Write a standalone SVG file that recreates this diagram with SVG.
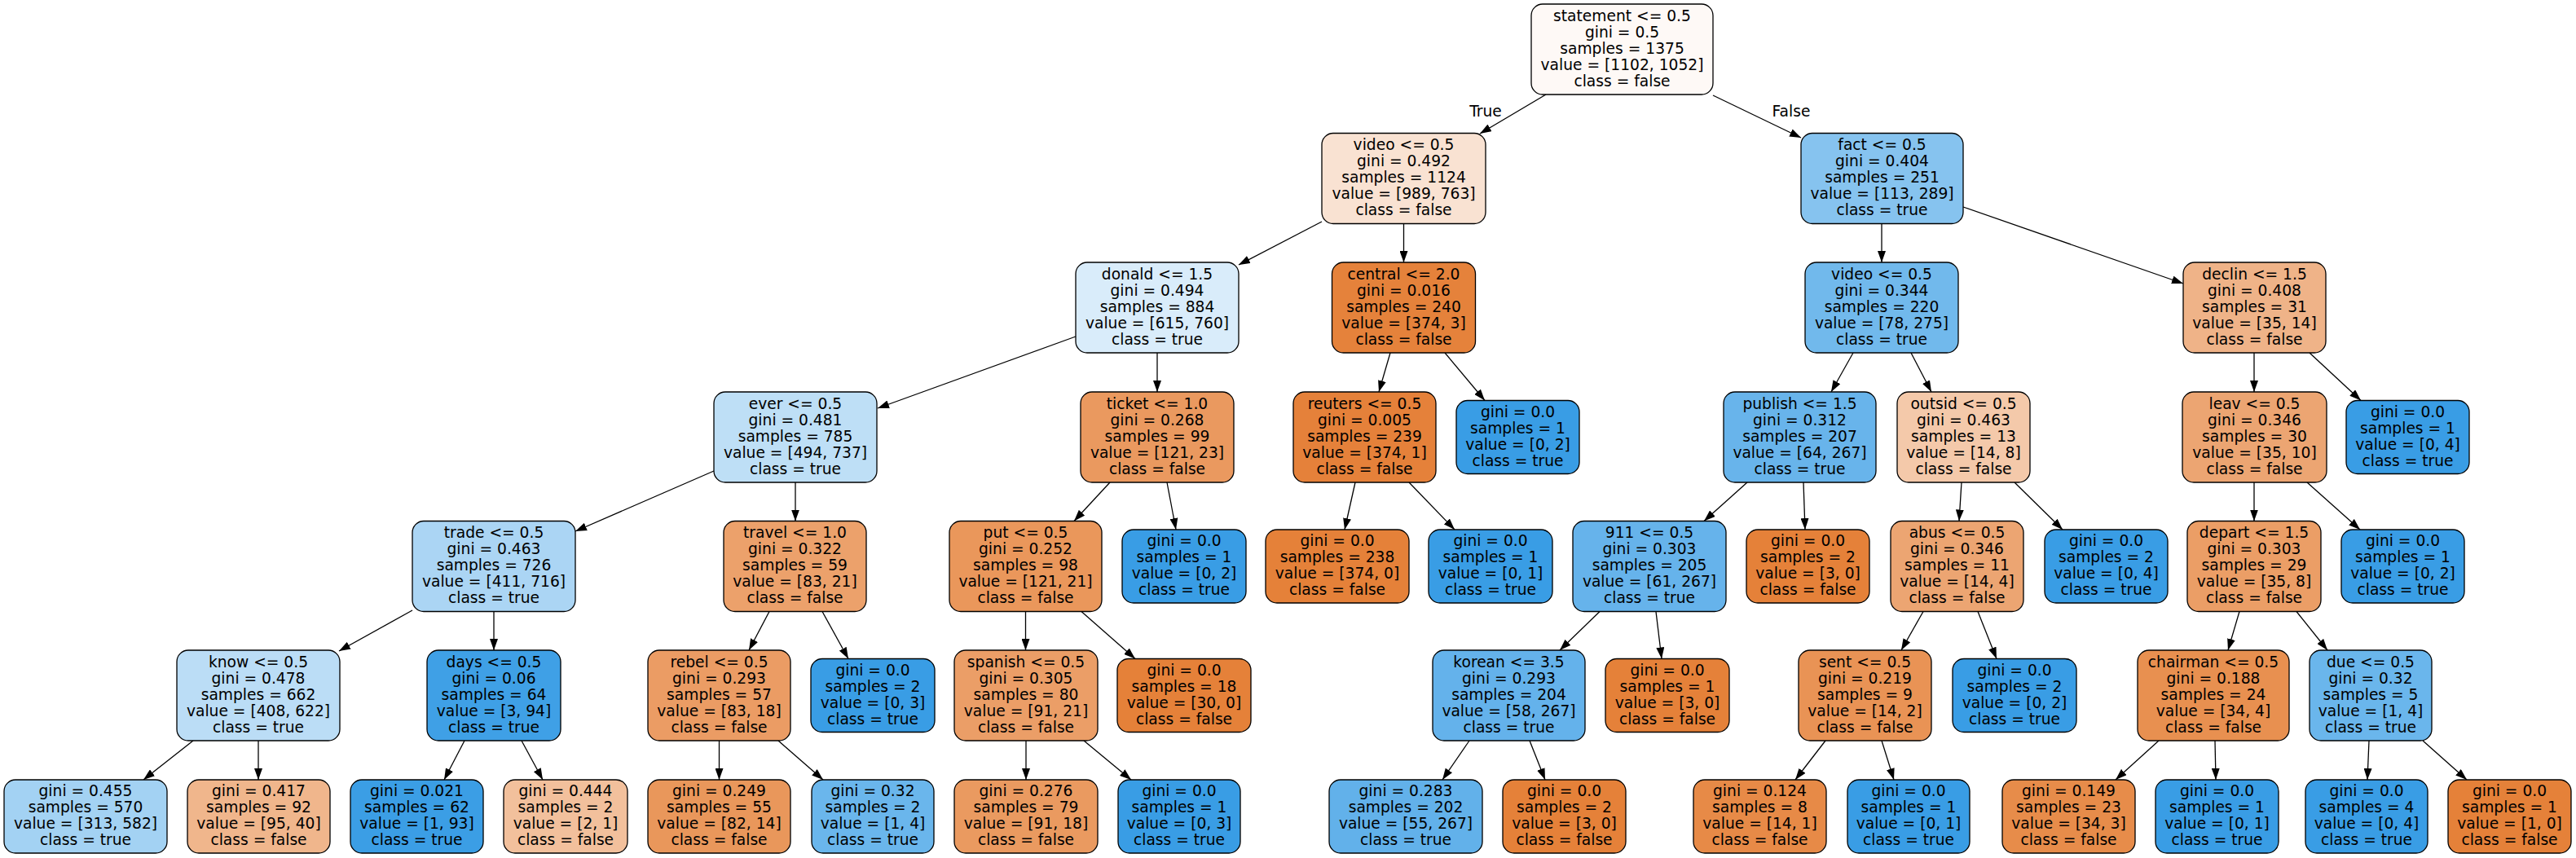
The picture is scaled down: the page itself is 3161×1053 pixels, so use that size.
<svg xmlns="http://www.w3.org/2000/svg" width="3161" height="1053" viewBox="0 0 3161 1053">
<style>
.n rect{stroke:#000;stroke-width:1.3}
text{font-family:"DejaVu Sans","Liberation Sans",sans-serif;font-size:18.67px;text-anchor:middle;fill:#000}
.e line{stroke:#000;stroke-width:1.3;marker-end:url(#a)}
</style>
<defs>
<marker id="a" viewBox="0 0 14 10" refX="14" refY="5" markerWidth="14" markerHeight="10" markerUnits="userSpaceOnUse" orient="auto"><path d="M0,0 L14,5 L0,10 z" fill="#000"/></marker>
</defs>
<rect width="3161" height="1053" fill="#fff"/>
<g id="edges" class="e">
<line x1="1897" y1="116" x2="1816" y2="164"/>
<line x1="2102" y1="117" x2="2210" y2="169"/>
<line x1="1622" y1="272" x2="1520" y2="325"/>
<line x1="1722.5" y1="274.5" x2="1722.5" y2="322"/>
<line x1="2309" y1="274.5" x2="2309" y2="322"/>
<line x1="2409" y1="254" x2="2679" y2="348"/>
<line x1="1320" y1="413" x2="1077" y2="501"/>
<line x1="1420" y1="433" x2="1420" y2="481"/>
<line x1="1706" y1="433" x2="1692" y2="481"/>
<line x1="1773" y1="433" x2="1822" y2="491.5"/>
<line x1="2274" y1="433" x2="2247" y2="481"/>
<line x1="2345" y1="433" x2="2370" y2="481"/>
<line x1="2766" y1="433" x2="2766" y2="481"/>
<line x1="2834" y1="433" x2="2897" y2="491.5"/>
<line x1="876" y1="578" x2="706" y2="652"/>
<line x1="976" y1="592" x2="976" y2="639.5"/>
<line x1="1362" y1="592" x2="1318" y2="639.5"/>
<line x1="1432" y1="592" x2="1443" y2="650"/>
<line x1="1663" y1="592" x2="1650" y2="650"/>
<line x1="1729" y1="592" x2="1785" y2="650"/>
<line x1="2144" y1="592" x2="2091" y2="639.5"/>
<line x1="2213" y1="592" x2="2215" y2="650"/>
<line x1="2407" y1="592" x2="2404" y2="639.5"/>
<line x1="2472" y1="592" x2="2531" y2="650"/>
<line x1="2766" y1="592" x2="2766" y2="639.5"/>
<line x1="2831" y1="592" x2="2896" y2="650"/>
<line x1="506" y1="749" x2="416" y2="799"/>
<line x1="606" y1="750.5" x2="606" y2="798"/>
<line x1="944" y1="750.5" x2="919" y2="798"/>
<line x1="1009" y1="750.5" x2="1041" y2="808.5"/>
<line x1="1258.5" y1="750.5" x2="1258.5" y2="798"/>
<line x1="1327" y1="750.5" x2="1393" y2="808.5"/>
<line x1="1963" y1="750.5" x2="1914" y2="798"/>
<line x1="2032" y1="750.5" x2="2039" y2="808.5"/>
<line x1="2360" y1="750.5" x2="2333" y2="798"/>
<line x1="2427" y1="750.5" x2="2450" y2="808.5"/>
<line x1="2748" y1="750.5" x2="2734" y2="798"/>
<line x1="2818" y1="750.5" x2="2856" y2="798"/>
<line x1="237" y1="909" x2="176" y2="957"/>
<line x1="317" y1="909" x2="317" y2="957"/>
<line x1="570" y1="909" x2="545" y2="957"/>
<line x1="640" y1="909" x2="666" y2="957"/>
<line x1="882.5" y1="909" x2="882.5" y2="957"/>
<line x1="955" y1="909" x2="1010" y2="957"/>
<line x1="1259" y1="909" x2="1259" y2="957"/>
<line x1="1330" y1="909" x2="1388" y2="957"/>
<line x1="1803" y1="909" x2="1770" y2="957"/>
<line x1="1877" y1="909" x2="1896" y2="957"/>
<line x1="2240" y1="909" x2="2203" y2="957"/>
<line x1="2309" y1="909" x2="2324" y2="957"/>
<line x1="2649" y1="909" x2="2596" y2="957"/>
<line x1="2718" y1="909" x2="2719" y2="957"/>
<line x1="2907" y1="909" x2="2905" y2="957"/>
<line x1="2973" y1="909" x2="3027" y2="957"/>
<text x="1823" y="142.5">True</text>
<text x="2198" y="142.5">False</text>
</g>
<g id="n0" class="n"><rect x="1879" y="5" width="223" height="111" rx="14" fill="#fef9f6"/><text y="25.5"><tspan x="1990.5">statement &lt;= 0.5</tspan><tspan x="1990.5" dy="20">gini = 0.5</tspan><tspan x="1990.5" dy="20">samples = 1375</tspan><tspan x="1990.5" dy="20">value = [1102, 1052]</tspan><tspan x="1990.5" dy="20">class = false</tspan></text></g>
<g id="n1" class="n"><rect x="1622" y="163.5" width="201" height="111" rx="14" fill="#f9e2d2"/><text y="184"><tspan x="1722.5">video &lt;= 0.5</tspan><tspan x="1722.5" dy="20">gini = 0.492</tspan><tspan x="1722.5" dy="20">samples = 1124</tspan><tspan x="1722.5" dy="20">value = [989, 763]</tspan><tspan x="1722.5" dy="20">class = false</tspan></text></g>
<g id="n2" class="n"><rect x="2210" y="163.5" width="199" height="111" rx="14" fill="#86c3ef"/><text y="184"><tspan x="2309.5">fact &lt;= 0.5</tspan><tspan x="2309.5" dy="20">gini = 0.404</tspan><tspan x="2309.5" dy="20">samples = 251</tspan><tspan x="2309.5" dy="20">value = [113, 289]</tspan><tspan x="2309.5" dy="20">class = true</tspan></text></g>
<g id="n3" class="n"><rect x="1320" y="322" width="200" height="111" rx="14" fill="#d9ecfa"/><text y="342.5"><tspan x="1420">donald &lt;= 1.5</tspan><tspan x="1420" dy="20">gini = 0.494</tspan><tspan x="1420" dy="20">samples = 884</tspan><tspan x="1420" dy="20">value = [615, 760]</tspan><tspan x="1420" dy="20">class = true</tspan></text></g>
<g id="n4" class="n"><rect x="1634.5" y="322" width="176" height="111" rx="14" fill="#e5823b"/><text y="342.5"><tspan x="1722.5">central &lt;= 2.0</tspan><tspan x="1722.5" dy="20">gini = 0.016</tspan><tspan x="1722.5" dy="20">samples = 240</tspan><tspan x="1722.5" dy="20">value = [374, 3]</tspan><tspan x="1722.5" dy="20">class = false</tspan></text></g>
<g id="n5" class="n"><rect x="2215" y="322" width="188" height="111" rx="14" fill="#71b9ec"/><text y="342.5"><tspan x="2309">video &lt;= 0.5</tspan><tspan x="2309" dy="20">gini = 0.344</tspan><tspan x="2309" dy="20">samples = 220</tspan><tspan x="2309" dy="20">value = [78, 275]</tspan><tspan x="2309" dy="20">class = true</tspan></text></g>
<g id="n6" class="n"><rect x="2679" y="322" width="175" height="111" rx="14" fill="#efb388"/><text y="342.5"><tspan x="2766.5">declin &lt;= 1.5</tspan><tspan x="2766.5" dy="20">gini = 0.408</tspan><tspan x="2766.5" dy="20">samples = 31</tspan><tspan x="2766.5" dy="20">value = [35, 14]</tspan><tspan x="2766.5" dy="20">class = false</tspan></text></g>
<g id="n7" class="n"><rect x="876" y="481" width="200" height="111" rx="14" fill="#bedff6"/><text y="501.5"><tspan x="976">ever &lt;= 0.5</tspan><tspan x="976" dy="20">gini = 0.481</tspan><tspan x="976" dy="20">samples = 785</tspan><tspan x="976" dy="20">value = [494, 737]</tspan><tspan x="976" dy="20">class = true</tspan></text></g>
<g id="n8" class="n"><rect x="1326" y="481" width="188" height="111" rx="14" fill="#ea995f"/><text y="501.5"><tspan x="1420">ticket &lt;= 1.0</tspan><tspan x="1420" dy="20">gini = 0.268</tspan><tspan x="1420" dy="20">samples = 99</tspan><tspan x="1420" dy="20">value = [121, 23]</tspan><tspan x="1420" dy="20">class = false</tspan></text></g>
<g id="n9" class="n"><rect x="1587" y="481" width="175" height="111" rx="14" fill="#e5813a"/><text y="501.5"><tspan x="1674.5">reuters &lt;= 0.5</tspan><tspan x="1674.5" dy="20">gini = 0.005</tspan><tspan x="1674.5" dy="20">samples = 239</tspan><tspan x="1674.5" dy="20">value = [374, 1]</tspan><tspan x="1674.5" dy="20">class = false</tspan></text></g>
<g id="n10" class="n"><rect x="1787" y="491.5" width="151" height="90" rx="14" fill="#399de5"/><text y="511.5"><tspan x="1862.5">gini = 0.0</tspan><tspan x="1862.5" dy="20">samples = 1</tspan><tspan x="1862.5" dy="20">value = [0, 2]</tspan><tspan x="1862.5" dy="20">class = true</tspan></text></g>
<g id="n11" class="n"><rect x="2115" y="481" width="187" height="111" rx="14" fill="#68b4eb"/><text y="501.5"><tspan x="2208.5">publish &lt;= 1.5</tspan><tspan x="2208.5" dy="20">gini = 0.312</tspan><tspan x="2208.5" dy="20">samples = 207</tspan><tspan x="2208.5" dy="20">value = [64, 267]</tspan><tspan x="2208.5" dy="20">class = true</tspan></text></g>
<g id="n12" class="n"><rect x="2328" y="481" width="163" height="111" rx="14" fill="#f4c9aa"/><text y="501.5"><tspan x="2409.5">outsid &lt;= 0.5</tspan><tspan x="2409.5" dy="20">gini = 0.463</tspan><tspan x="2409.5" dy="20">samples = 13</tspan><tspan x="2409.5" dy="20">value = [14, 8]</tspan><tspan x="2409.5" dy="20">class = false</tspan></text></g>
<g id="n13" class="n"><rect x="2678" y="481" width="177" height="111" rx="14" fill="#eca572"/><text y="501.5"><tspan x="2766.5">leav &lt;= 0.5</tspan><tspan x="2766.5" dy="20">gini = 0.346</tspan><tspan x="2766.5" dy="20">samples = 30</tspan><tspan x="2766.5" dy="20">value = [35, 10]</tspan><tspan x="2766.5" dy="20">class = false</tspan></text></g>
<g id="n14" class="n"><rect x="2879" y="491.5" width="151" height="90" rx="14" fill="#399de5"/><text y="511.5"><tspan x="2954.5">gini = 0.0</tspan><tspan x="2954.5" dy="20">samples = 1</tspan><tspan x="2954.5" dy="20">value = [0, 4]</tspan><tspan x="2954.5" dy="20">class = true</tspan></text></g>
<g id="n15" class="n"><rect x="506" y="639.5" width="200" height="111" rx="14" fill="#abd5f4"/><text y="660"><tspan x="606">trade &lt;= 0.5</tspan><tspan x="606" dy="20">gini = 0.463</tspan><tspan x="606" dy="20">samples = 726</tspan><tspan x="606" dy="20">value = [411, 716]</tspan><tspan x="606" dy="20">class = true</tspan></text></g>
<g id="n16" class="n"><rect x="888" y="639.5" width="175" height="111" rx="14" fill="#eca16b"/><text y="660"><tspan x="975.5">travel &lt;= 1.0</tspan><tspan x="975.5" dy="20">gini = 0.322</tspan><tspan x="975.5" dy="20">samples = 59</tspan><tspan x="975.5" dy="20">value = [83, 21]</tspan><tspan x="975.5" dy="20">class = false</tspan></text></g>
<g id="n17" class="n"><rect x="1165" y="639.5" width="187" height="111" rx="14" fill="#ea975b"/><text y="660"><tspan x="1258.5">put &lt;= 0.5</tspan><tspan x="1258.5" dy="20">gini = 0.252</tspan><tspan x="1258.5" dy="20">samples = 98</tspan><tspan x="1258.5" dy="20">value = [121, 21]</tspan><tspan x="1258.5" dy="20">class = false</tspan></text></g>
<g id="n18" class="n"><rect x="1377" y="650" width="152" height="90" rx="14" fill="#399de5"/><text y="670"><tspan x="1453">gini = 0.0</tspan><tspan x="1453" dy="20">samples = 1</tspan><tspan x="1453" dy="20">value = [0, 2]</tspan><tspan x="1453" dy="20">class = true</tspan></text></g>
<g id="n19" class="n"><rect x="1553" y="650" width="176" height="90" rx="14" fill="#e58139"/><text y="670"><tspan x="1641">gini = 0.0</tspan><tspan x="1641" dy="20">samples = 238</tspan><tspan x="1641" dy="20">value = [374, 0]</tspan><tspan x="1641" dy="20">class = false</tspan></text></g>
<g id="n20" class="n"><rect x="1753" y="650" width="152" height="90" rx="14" fill="#399de5"/><text y="670"><tspan x="1829">gini = 0.0</tspan><tspan x="1829" dy="20">samples = 1</tspan><tspan x="1829" dy="20">value = [0, 1]</tspan><tspan x="1829" dy="20">class = true</tspan></text></g>
<g id="n21" class="n"><rect x="1930" y="639.5" width="188" height="111" rx="14" fill="#66b3eb"/><text y="660"><tspan x="2024">911 &lt;= 0.5</tspan><tspan x="2024" dy="20">gini = 0.303</tspan><tspan x="2024" dy="20">samples = 205</tspan><tspan x="2024" dy="20">value = [61, 267]</tspan><tspan x="2024" dy="20">class = true</tspan></text></g>
<g id="n22" class="n"><rect x="2143" y="650" width="151" height="90" rx="14" fill="#e58139"/><text y="670"><tspan x="2218.5">gini = 0.0</tspan><tspan x="2218.5" dy="20">samples = 2</tspan><tspan x="2218.5" dy="20">value = [3, 0]</tspan><tspan x="2218.5" dy="20">class = false</tspan></text></g>
<g id="n23" class="n"><rect x="2320" y="639.5" width="163" height="111" rx="14" fill="#eca572"/><text y="660"><tspan x="2401.5">abus &lt;= 0.5</tspan><tspan x="2401.5" dy="20">gini = 0.346</tspan><tspan x="2401.5" dy="20">samples = 11</tspan><tspan x="2401.5" dy="20">value = [14, 4]</tspan><tspan x="2401.5" dy="20">class = false</tspan></text></g>
<g id="n24" class="n"><rect x="2509" y="650" width="151" height="90" rx="14" fill="#399de5"/><text y="670"><tspan x="2584.5">gini = 0.0</tspan><tspan x="2584.5" dy="20">samples = 2</tspan><tspan x="2584.5" dy="20">value = [0, 4]</tspan><tspan x="2584.5" dy="20">class = true</tspan></text></g>
<g id="n25" class="n"><rect x="2684" y="639.5" width="164" height="111" rx="14" fill="#eb9e66"/><text y="660"><tspan x="2766">depart &lt;= 1.5</tspan><tspan x="2766" dy="20">gini = 0.303</tspan><tspan x="2766" dy="20">samples = 29</tspan><tspan x="2766" dy="20">value = [35, 8]</tspan><tspan x="2766" dy="20">class = false</tspan></text></g>
<g id="n26" class="n"><rect x="2873" y="650" width="151" height="90" rx="14" fill="#399de5"/><text y="670"><tspan x="2948.5">gini = 0.0</tspan><tspan x="2948.5" dy="20">samples = 1</tspan><tspan x="2948.5" dy="20">value = [0, 2]</tspan><tspan x="2948.5" dy="20">class = true</tspan></text></g>
<g id="n27" class="n"><rect x="217" y="798" width="200" height="111" rx="14" fill="#bbddf6"/><text y="818.5"><tspan x="317">know &lt;= 0.5</tspan><tspan x="317" dy="20">gini = 0.478</tspan><tspan x="317" dy="20">samples = 662</tspan><tspan x="317" dy="20">value = [408, 622]</tspan><tspan x="317" dy="20">class = true</tspan></text></g>
<g id="n28" class="n"><rect x="524" y="798" width="164" height="111" rx="14" fill="#3fa0e6"/><text y="818.5"><tspan x="606">days &lt;= 0.5</tspan><tspan x="606" dy="20">gini = 0.06</tspan><tspan x="606" dy="20">samples = 64</tspan><tspan x="606" dy="20">value = [3, 94]</tspan><tspan x="606" dy="20">class = true</tspan></text></g>
<g id="n29" class="n"><rect x="795" y="798" width="175" height="111" rx="14" fill="#eb9c64"/><text y="818.5"><tspan x="882.5">rebel &lt;= 0.5</tspan><tspan x="882.5" dy="20">gini = 0.293</tspan><tspan x="882.5" dy="20">samples = 57</tspan><tspan x="882.5" dy="20">value = [83, 18]</tspan><tspan x="882.5" dy="20">class = false</tspan></text></g>
<g id="n30" class="n"><rect x="995" y="808.5" width="152" height="90" rx="14" fill="#399de5"/><text y="828.5"><tspan x="1071">gini = 0.0</tspan><tspan x="1071" dy="20">samples = 2</tspan><tspan x="1071" dy="20">value = [0, 3]</tspan><tspan x="1071" dy="20">class = true</tspan></text></g>
<g id="n31" class="n"><rect x="1171" y="798" width="176" height="111" rx="14" fill="#eb9e67"/><text y="818.5"><tspan x="1259">spanish &lt;= 0.5</tspan><tspan x="1259" dy="20">gini = 0.305</tspan><tspan x="1259" dy="20">samples = 80</tspan><tspan x="1259" dy="20">value = [91, 21]</tspan><tspan x="1259" dy="20">class = false</tspan></text></g>
<g id="n32" class="n"><rect x="1371" y="808.5" width="164" height="90" rx="14" fill="#e58139"/><text y="828.5"><tspan x="1453">gini = 0.0</tspan><tspan x="1453" dy="20">samples = 18</tspan><tspan x="1453" dy="20">value = [30, 0]</tspan><tspan x="1453" dy="20">class = false</tspan></text></g>
<g id="n33" class="n"><rect x="1758" y="798" width="187" height="111" rx="14" fill="#64b2eb"/><text y="818.5"><tspan x="1851.5">korean &lt;= 3.5</tspan><tspan x="1851.5" dy="20">gini = 0.293</tspan><tspan x="1851.5" dy="20">samples = 204</tspan><tspan x="1851.5" dy="20">value = [58, 267]</tspan><tspan x="1851.5" dy="20">class = true</tspan></text></g>
<g id="n34" class="n"><rect x="1970" y="808.5" width="152" height="90" rx="14" fill="#e58139"/><text y="828.5"><tspan x="2046">gini = 0.0</tspan><tspan x="2046" dy="20">samples = 1</tspan><tspan x="2046" dy="20">value = [3, 0]</tspan><tspan x="2046" dy="20">class = false</tspan></text></g>
<g id="n35" class="n"><rect x="2207" y="798" width="163" height="111" rx="14" fill="#e99355"/><text y="818.5"><tspan x="2288.5">sent &lt;= 0.5</tspan><tspan x="2288.5" dy="20">gini = 0.219</tspan><tspan x="2288.5" dy="20">samples = 9</tspan><tspan x="2288.5" dy="20">value = [14, 2]</tspan><tspan x="2288.5" dy="20">class = false</tspan></text></g>
<g id="n36" class="n"><rect x="2396" y="808.5" width="152" height="90" rx="14" fill="#399de5"/><text y="828.5"><tspan x="2472">gini = 0.0</tspan><tspan x="2472" dy="20">samples = 2</tspan><tspan x="2472" dy="20">value = [0, 2]</tspan><tspan x="2472" dy="20">class = true</tspan></text></g>
<g id="n37" class="n"><rect x="2623" y="798" width="186" height="111" rx="14" fill="#e89050"/><text y="818.5"><tspan x="2716">chairman &lt;= 0.5</tspan><tspan x="2716" dy="20">gini = 0.188</tspan><tspan x="2716" dy="20">samples = 24</tspan><tspan x="2716" dy="20">value = [34, 4]</tspan><tspan x="2716" dy="20">class = false</tspan></text></g>
<g id="n38" class="n"><rect x="2834" y="798" width="150" height="111" rx="14" fill="#6ab6ec"/><text y="818.5"><tspan x="2909">due &lt;= 0.5</tspan><tspan x="2909" dy="20">gini = 0.32</tspan><tspan x="2909" dy="20">samples = 5</tspan><tspan x="2909" dy="20">value = [1, 4]</tspan><tspan x="2909" dy="20">class = true</tspan></text></g>
<g id="n39" class="n"><rect x="5" y="957" width="200" height="90" rx="14" fill="#a3d2f3"/><text y="977"><tspan x="105">gini = 0.455</tspan><tspan x="105" dy="20">samples = 570</tspan><tspan x="105" dy="20">value = [313, 582]</tspan><tspan x="105" dy="20">class = true</tspan></text></g>
<g id="n40" class="n"><rect x="230" y="957" width="175" height="90" rx="14" fill="#f0b68c"/><text y="977"><tspan x="317.5">gini = 0.417</tspan><tspan x="317.5" dy="20">samples = 92</tspan><tspan x="317.5" dy="20">value = [95, 40]</tspan><tspan x="317.5" dy="20">class = false</tspan></text></g>
<g id="n41" class="n"><rect x="430" y="957" width="163" height="90" rx="14" fill="#3b9ee5"/><text y="977"><tspan x="511.5">gini = 0.021</tspan><tspan x="511.5" dy="20">samples = 62</tspan><tspan x="511.5" dy="20">value = [1, 93]</tspan><tspan x="511.5" dy="20">class = true</tspan></text></g>
<g id="n42" class="n"><rect x="618" y="957" width="152" height="90" rx="14" fill="#f2c09c"/><text y="977"><tspan x="694">gini = 0.444</tspan><tspan x="694" dy="20">samples = 2</tspan><tspan x="694" dy="20">value = [2, 1]</tspan><tspan x="694" dy="20">class = false</tspan></text></g>
<g id="n43" class="n"><rect x="795" y="957" width="175" height="90" rx="14" fill="#e9975b"/><text y="977"><tspan x="882.5">gini = 0.249</tspan><tspan x="882.5" dy="20">samples = 55</tspan><tspan x="882.5" dy="20">value = [82, 14]</tspan><tspan x="882.5" dy="20">class = false</tspan></text></g>
<g id="n44" class="n"><rect x="996" y="957" width="150" height="90" rx="14" fill="#6ab6ec"/><text y="977"><tspan x="1071">gini = 0.32</tspan><tspan x="1071" dy="20">samples = 2</tspan><tspan x="1071" dy="20">value = [1, 4]</tspan><tspan x="1071" dy="20">class = true</tspan></text></g>
<g id="n45" class="n"><rect x="1171" y="957" width="176" height="90" rx="14" fill="#ea9a60"/><text y="977"><tspan x="1259">gini = 0.276</tspan><tspan x="1259" dy="20">samples = 79</tspan><tspan x="1259" dy="20">value = [91, 18]</tspan><tspan x="1259" dy="20">class = false</tspan></text></g>
<g id="n46" class="n"><rect x="1372" y="957" width="150" height="90" rx="14" fill="#399de5"/><text y="977"><tspan x="1447">gini = 0.0</tspan><tspan x="1447" dy="20">samples = 1</tspan><tspan x="1447" dy="20">value = [0, 3]</tspan><tspan x="1447" dy="20">class = true</tspan></text></g>
<g id="n47" class="n"><rect x="1631" y="957" width="188" height="90" rx="14" fill="#62b1ea"/><text y="977"><tspan x="1725">gini = 0.283</tspan><tspan x="1725" dy="20">samples = 202</tspan><tspan x="1725" dy="20">value = [55, 267]</tspan><tspan x="1725" dy="20">class = true</tspan></text></g>
<g id="n48" class="n"><rect x="1844" y="957" width="151" height="90" rx="14" fill="#e58139"/><text y="977"><tspan x="1919.5">gini = 0.0</tspan><tspan x="1919.5" dy="20">samples = 2</tspan><tspan x="1919.5" dy="20">value = [3, 0]</tspan><tspan x="1919.5" dy="20">class = false</tspan></text></g>
<g id="n49" class="n"><rect x="2078" y="957" width="163" height="90" rx="14" fill="#e78a47"/><text y="977"><tspan x="2159.5">gini = 0.124</tspan><tspan x="2159.5" dy="20">samples = 8</tspan><tspan x="2159.5" dy="20">value = [14, 1]</tspan><tspan x="2159.5" dy="20">class = false</tspan></text></g>
<g id="n50" class="n"><rect x="2267" y="957" width="150" height="90" rx="14" fill="#399de5"/><text y="977"><tspan x="2342">gini = 0.0</tspan><tspan x="2342" dy="20">samples = 1</tspan><tspan x="2342" dy="20">value = [0, 1]</tspan><tspan x="2342" dy="20">class = true</tspan></text></g>
<g id="n51" class="n"><rect x="2457" y="957" width="163" height="90" rx="14" fill="#e78c4a"/><text y="977"><tspan x="2538.5">gini = 0.149</tspan><tspan x="2538.5" dy="20">samples = 23</tspan><tspan x="2538.5" dy="20">value = [34, 3]</tspan><tspan x="2538.5" dy="20">class = false</tspan></text></g>
<g id="n52" class="n"><rect x="2645" y="957" width="151" height="90" rx="14" fill="#399de5"/><text y="977"><tspan x="2720.5">gini = 0.0</tspan><tspan x="2720.5" dy="20">samples = 1</tspan><tspan x="2720.5" dy="20">value = [0, 1]</tspan><tspan x="2720.5" dy="20">class = true</tspan></text></g>
<g id="n53" class="n"><rect x="2829" y="957" width="150" height="90" rx="14" fill="#399de5"/><text y="977"><tspan x="2904">gini = 0.0</tspan><tspan x="2904" dy="20">samples = 4</tspan><tspan x="2904" dy="20">value = [0, 4]</tspan><tspan x="2904" dy="20">class = true</tspan></text></g>
<g id="n54" class="n"><rect x="3004" y="957" width="151" height="90" rx="14" fill="#e58139"/><text y="977"><tspan x="3079.5">gini = 0.0</tspan><tspan x="3079.5" dy="20">samples = 1</tspan><tspan x="3079.5" dy="20">value = [1, 0]</tspan><tspan x="3079.5" dy="20">class = false</tspan></text></g>
</svg>
